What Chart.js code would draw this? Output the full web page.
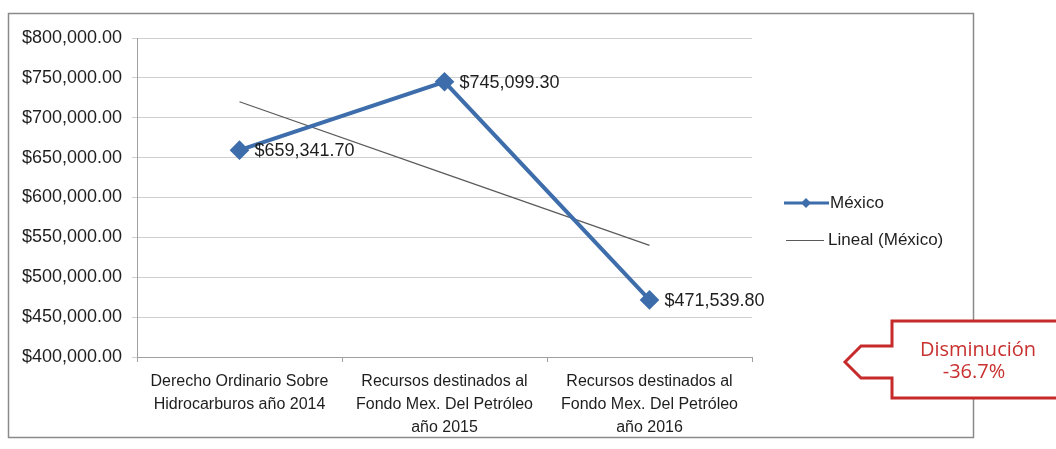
<!DOCTYPE html>
<html>
<head>
<meta charset="utf-8">
<script src="https://cdn.jsdelivr.net/npm/chart.js@4/dist/chart.umd.min.js"></script>
<style>
  html, body { margin: 0; padding: 0; background: #fff; }
  #wrap { width: 1056px; height: 449px; }
</style>
</head>
<body>
<div id="wrap"><canvas id="grafico" width="1056" height="449"></canvas></div>
<script>

// categorias y valores
const categorias = [
    ['Derecho Ordinario Sobre', 'Hidrocarburos año 2014'],
    ['Recursos destinados al', 'Fondo Mex. Del Petróleo', 'año 2015'],
    ['Recursos destinados al', 'Fondo Mex. Del Petróleo', 'año 2016']
]
const valoresMexico = [659341.70, 745099.30, 471539.80]
const valoresLineal = [720000, 630000, 540000]
const ticksEje = [400000, 450000, 500000, 550000, 600000, 650000, 700000, 750000, 800000]

const azul = '#3d6dab'
const gris = '#5a5a5a'

const moneda = v => '$' + Number(v).toLocaleString('en-US', { minimumFractionDigits: 2, maximumFractionDigits: 2 })

/*=============================================
PLUGIN FONDO Y MARCO
=============================================*/

const fondo = {
    id: 'fondo',
    beforeDraw: (chart) => {
        let ctx = chart.ctx
        ctx.save()
        ctx.fillStyle = '#fff'
        ctx.fillRect(0, 0, chart.width, chart.height)
        ctx.strokeStyle = '#8a8a8a'
        ctx.lineWidth = 1.5
        ctx.strokeRect(8.5, 13.5, 965, 424)
        ctx.restore()
    }
}

/*=============================================
PLUGIN ETIQUETAS, LEYENDA Y LLAMADA
=============================================*/

const extras = {
    id: 'extras',
    afterDatasetsDraw: (chart) => {
        let ctx = chart.ctx
        let meta = chart.getDatasetMeta(0)
        ctx.save()
        ctx.font = '18px "Liberation Sans", Arial, sans-serif'
        ctx.fillStyle = '#1e1e1e'
        ctx.textAlign = 'left'
        ctx.textBaseline = 'middle'
        meta.data.forEach((p, i) => {
            ctx.fillText(moneda(valoresMexico[i]), p.x + 15, p.y + 1)
        })
        ctx.restore()
    },
    afterDraw: (chart) => {
        let ctx = chart.ctx
        ctx.save()

        // leyenda
        ctx.font = '17px "Liberation Sans", Arial, sans-serif'
        ctx.textBaseline = 'middle'
        ctx.strokeStyle = azul
        ctx.lineWidth = 3
        ctx.beginPath(); ctx.moveTo(784, 203); ctx.lineTo(829, 203); ctx.stroke()
        ctx.fillStyle = azul
        ctx.beginPath()
        ctx.moveTo(806, 198); ctx.lineTo(811, 203); ctx.lineTo(806, 208); ctx.lineTo(801, 203)
        ctx.closePath(); ctx.fill()
        ctx.fillStyle = '#1e1e1e'
        ctx.fillText('México', 830, 203)

        ctx.strokeStyle = gris
        ctx.lineWidth = 1
        ctx.beginPath(); ctx.moveTo(786, 240.5); ctx.lineTo(824, 240.5); ctx.stroke()
        ctx.fillText('Lineal (México)', 828, 240)

        // llamada roja
        ctx.beginPath()
        ctx.moveTo(1060, 321)
        ctx.lineTo(892, 321)
        ctx.lineTo(892, 346)
        ctx.lineTo(861, 346)
        ctx.lineTo(845, 362)
        ctx.lineTo(861, 378)
        ctx.lineTo(892, 378)
        ctx.lineTo(892, 398)
        ctx.lineTo(1060, 398)
        ctx.closePath()
        ctx.fillStyle = '#fff'
        ctx.fill()
        ctx.strokeStyle = '#c62a2a'
        ctx.lineWidth = 3
        ctx.lineJoin = 'miter'
        ctx.stroke()

        ctx.fillStyle = '#c93030'
        ctx.font = '20px "Open Sans", "Liberation Sans", sans-serif'
        ctx.textAlign = 'center'
        ctx.fillText('Disminución', 978, 350)
        ctx.fillText('-36.7%', 974, 372)
        ctx.restore()
    }
}

let config = {
    type: 'line',
    data: {
        labels: categorias,
        datasets: [{
            label: 'México',
            data: valoresMexico,
            borderColor: azul,
            backgroundColor: azul,
            borderWidth: 4,
            pointStyle: 'rectRot',
            pointRadius: 7,
            pointHoverRadius: 7,
            tension: 0
        }, {
            label: 'Lineal (México)',
            data: valoresLineal,
            borderColor: gris,
            borderWidth: 1.2,
            pointRadius: 0,
            tension: 0
        }]
    },
    options: {
        responsive: false,
        animation: false,
        layout: {
            padding: { left: 10, right: 304, top: 38, bottom: 0 }
        },
        plugins: {
            legend: { display: false },
            tooltip: { enabled: false }
        },
        scales: {
            x: {
                offset: true,
                grid: {
                    drawOnChartArea: false,
                    color: '#a0a0a0',
                    tickLength: 5,
                    offset: true
                },
                border: { color: '#a0a0a0' },
                ticks: {
                    color: '#1e1e1e',
                    font: { family: '"Liberation Sans", Arial, sans-serif', size: 16, lineHeight: 1.45 },
                    padding: 8,
                    maxRotation: 0,
                    autoSkip: false
                },
                afterFit: (scale) => { scale.height = 92 }
            },
            y: {
                min: 400000,
                max: 800000,
                afterBuildTicks: (scale) => { scale.ticks = ticksEje.map(v => ({ value: v })) },
                grid: {
                    color: '#cfcfcf',
                    tickLength: 5
                },
                border: { color: '#a0a0a0' },
                ticks: {
                    color: '#1e1e1e',
                    font: { family: '"Liberation Sans", Arial, sans-serif', size: 18 },
                    padding: 10,
                    callback: v => moneda(v)
                },
                afterFit: (scale) => { scale.width = 127 }
            }
        }
    },
    plugins: [fondo, extras]
}

let ctx = document.getElementById('grafico').getContext('2d')
window.miGrafico = new Chart(ctx, config)

</script>
</body>
</html>
